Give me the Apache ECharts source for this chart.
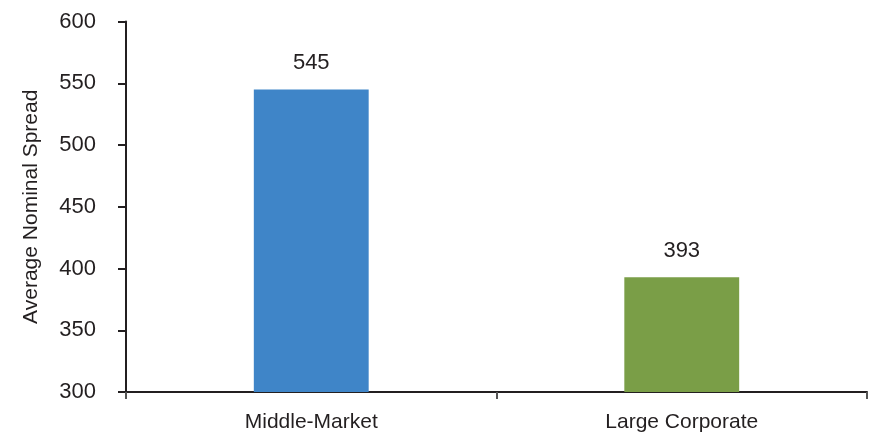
<!DOCTYPE html>
<html><head><meta charset="utf-8">
<script src="https://cdn.jsdelivr.net/npm/echarts@6/dist/echarts.min.js"></script>
<style>html,body{margin:0;padding:0;background:#fff}#c{width:869px;height:438px}</style>
</head><body><div id="c"></div>
<script>
const categories = ['Middle-Market', 'Large Corporate'];
const values = [545, 393];
const barColors = ['#3F85C8', '#7A9E47'];
const yTitle = 'Average Nominal Spread';
const FONT = '"Liberation Sans", Arial, sans-serif';
const chart = echarts.init(document.getElementById('c'));
chart.setOption({
  animation: false,
  grid: {left: 126, right: 2, top: 21.5, bottom: 46, containLabel: false},
  xAxis: {
    type: 'category', data: categories,
    axisLine: {lineStyle: {color: '#231F20', width: 2}},
    axisTick: {show: true, alignWithLabel: false, length: 7, lineStyle: {color: '#555', width: 2}},
    axisLabel: {color: '#231F20', fontSize: 21, fontFamily: FONT, margin: 20}
  },
  yAxis: {
    type: 'value', min: 300, max: 600, interval: 50,
    name: yTitle, nameLocation: 'middle', nameGap: 84, nameRotate: 90,
    nameTextStyle: {color: '#231F20', fontSize: 21, fontFamily: FONT},
    splitLine: {show: false},
    axisLine: {show: true, lineStyle: {color: '#231F20', width: 2}},
    axisTick: {show: true, length: 8, lineStyle: {color: '#231F20', width: 2}},
    axisLabel: {color: '#231F20', fontSize: 22, fontFamily: FONT, margin: 30}
  },
  series: [{
    type: 'bar', barWidth: '31%',
    data: values.map((v, i) => ({value: v, itemStyle: {color: barColors[i]}})),
    label: {show: true, position: 'top', distance: 15, color: '#231F20', fontSize: 22, fontFamily: FONT}
  }]
});
</script></body></html>
